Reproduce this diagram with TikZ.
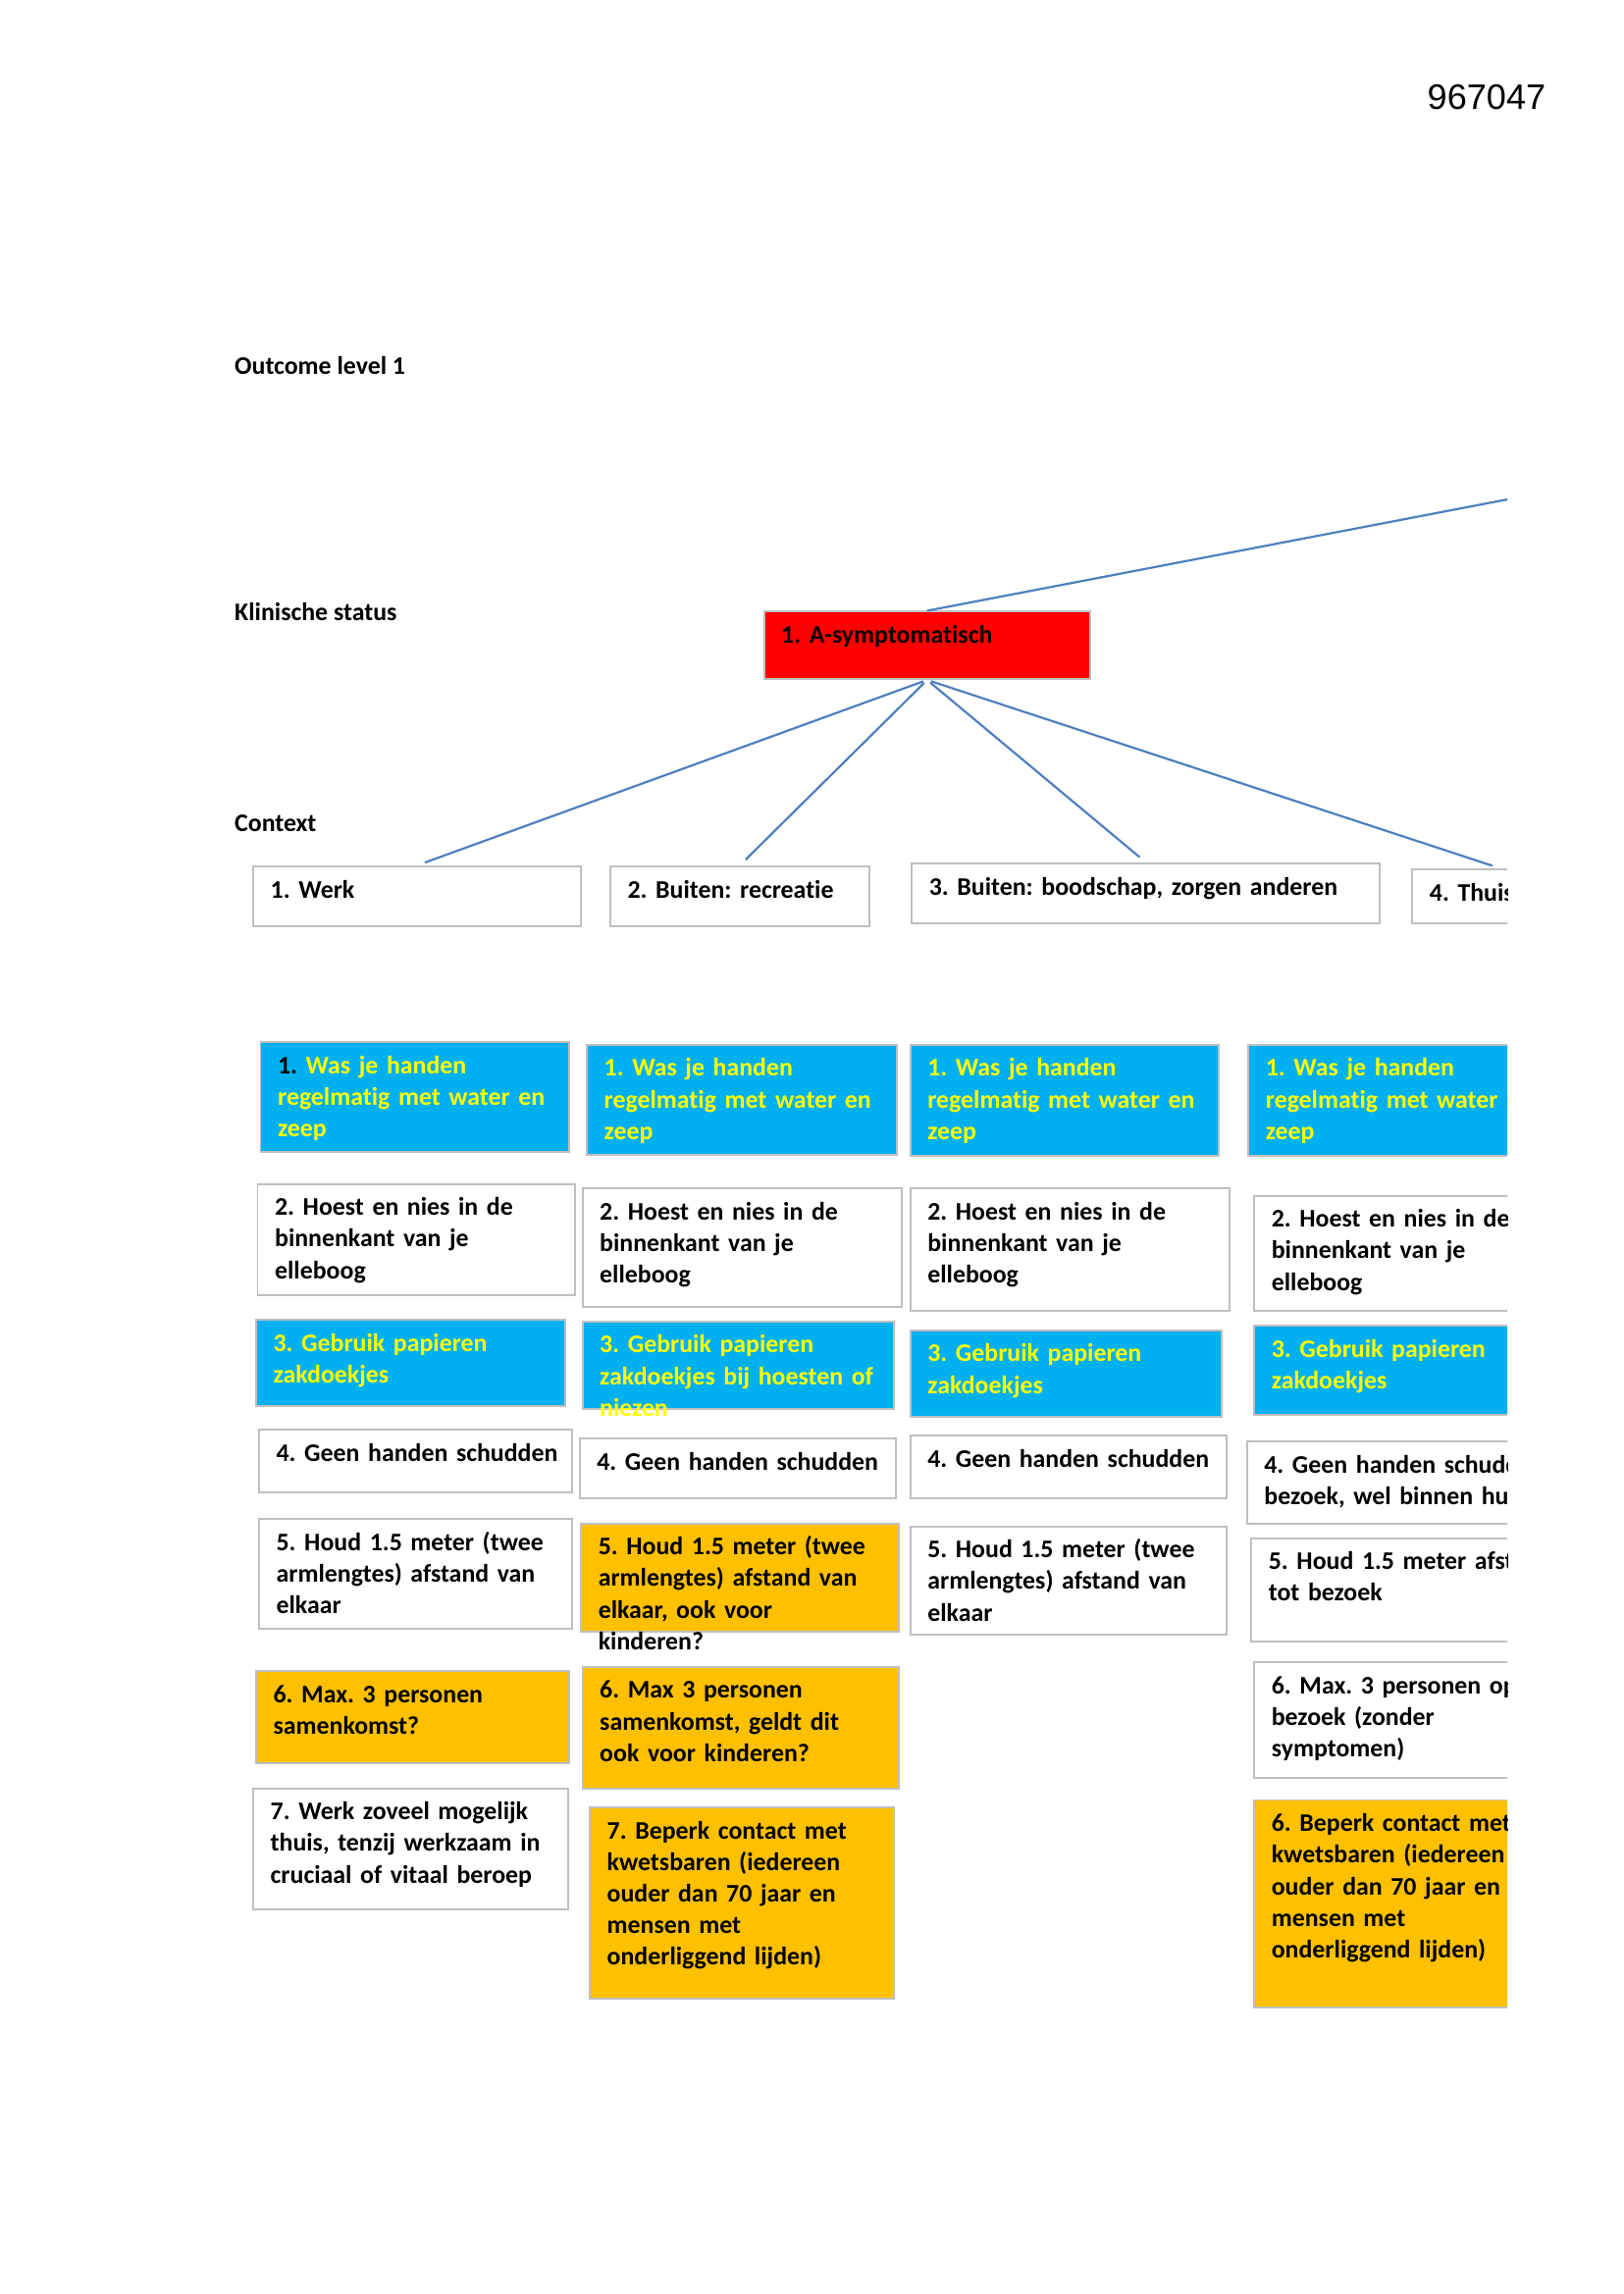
\documentclass[tikz,border=0pt]{standalone}
\usepackage{fontspec}
\setmainfont{Carlito}[Ligatures=NoCommon]
\newfontfamily\arialfont{Liberation Sans}
\usetikzlibrary{fit}
\frenchspacing

\definecolor{boxline}{HTML}{BFBFBF}
\definecolor{tipblue}{HTML}{00B0F0}
\definecolor{tipyellow}{HTML}{FFFF00}
\definecolor{tiporange}{HTML}{FFC000}
\definecolor{statusred}{HTML}{FF0000}
\definecolor{linkblue}{HTML}{4F81BD}

\tikzset{
  box/.style={draw=boxline, line width=0.7pt, inner sep=0pt},
  boxtext/.style={anchor=base west, inner sep=0pt, align=left, text width=200pt,
    font=\bfseries\fontsize{9.3}{11.6}\selectfont},
  level/.style={anchor=base west, inner sep=0pt, font=\bfseries\fontsize{9.3}{11.6}\selectfont},
  link/.style={draw=linkblue, line width=0.8pt},
}

\begin{document}
\begin{tikzpicture}[x=0.5369pt, y=-0.5369pt]
\useasboundingbox (0,0) rectangle (1109,1567.6);

% document number
\node[anchor=base west, inner sep=0pt, font=\arialfont\fontsize{13}{15}\selectfont]
  (docnr) at (975,75) {967047};

\begin{scope}
\clip (0,0) rectangle (1030,1567.6);

% === Level labels ===
\node[level] (lvl-outcome) at (160,256) {Outcome level 1};
\node[level] (lvl-status)  at (160,424) {Klinische status};
\node[level] (lvl-context) at (160,568) {Context};

% === Klinische status ===
\node[box, fill=statusred, fit={(522,418) (745,464)}] (status) {};
\node[boxtext] (status-txt) at ([xshift=6.5pt, yshift=-11.9pt]status.north west) {1. A-symptomatisch};
\coordinate (outcome) at (1240,301);
\draw[link] (status.north) -- (outcome);

% === Context ===
\foreach \n/\xa/\ya/\xb/\yb/\txt in {
  ctx-1/173/592/397/633/{1. Werk},
  ctx-2/417/592/594/633/{2. Buiten: recreatie},
  ctx-3/623/590/943/631/{3. Buiten: boodschap, zorgen anderen},
  ctx-4/965/594/1085/631/{4. Thuis}}{
  \node[box, fill=white, fit={(\xa,\ya) (\xb,\yb)}] (\n) {};
  \node[boxtext] (\n-txt) at ([xshift=6.5pt, yshift=-11.9pt]\n.north west) {\txt};
}

\foreach \i in {1,...,4}{
  \draw[link, shorten <=1.5pt, shorten >=3pt] (status.south) -- (ctx-\i.north);
}

% === Maatregelen per context ===
\foreach \n/\xa/\ya/\xb/\yb/\bg/\ink/\txt in {
  c1-1/178/712/389/787/tipblue/tipyellow/{{\color{black}1.} Was je handen\\regelmatig met water en\\zeep},
  c1-2/176/809/393/885/white/black/{2. Hoest en nies in de\\binnenkant van je\\elleboog},
  c1-3/175/902/386/961/tipblue/tipyellow/{3. Gebruik papieren\\zakdoekjes},
  c1-4/177/977/391/1020/white/black/{4. Geen handen schudden},
  c1-5/177/1038/391/1113/white/black/{5. Houd 1.5 meter (twee\\armlengtes) afstand van\\elkaar},
  c1-6/175/1142/389/1205/tiporange/black/{6. Max. 3 personen\\samenkomst?},
  c1-7/173/1222/388/1305/white/black/{7. Werk zoveel mogelijk\\thuis, tenzij werkzaam in\\cruciaal of vitaal beroep}}{
  \node[box, fill=\bg, fit={(\xa,\ya) (\xb,\yb)}] (\n) {};
  \node[boxtext, text=\ink] (\n-txt) at ([xshift=6.5pt, yshift=-11.9pt]\n.north west) {\txt};
}

\foreach \n/\xa/\ya/\xb/\yb/\bg/\ink/\txt in {
  c2-1/401/714/613/789/tipblue/tipyellow/{1. Was je handen\\regelmatig met water en\\zeep},
  c2-2/398/812/616/893/white/black/{2. Hoest en nies in de\\binnenkant van je\\elleboog},
  c2-3/398/903/611/963/tipblue/tipyellow/{3. Gebruik papieren\\zakdoekjes bij hoesten of\\niezen},
  c2-4/396/983/612/1024/white/black/{4. Geen handen schudden},
  c2-5/397/1041/614/1115/tiporange/black/{5. Houd 1.5 meter (twee\\armlengtes) afstand van\\elkaar, ook voor\\kinderen?},
  c2-6/398/1139/614/1222/tiporange/black/{6. Max 3 personen\\samenkomst, geldt dit\\ook voor kinderen?},
  c2-7/403/1235/611/1366/tiporange/black/{7. Beperk contact met\\kwetsbaren (iedereen\\ouder dan 70 jaar en\\mensen met\\onderliggend lijden)}}{
  \node[box, fill=\bg, fit={(\xa,\ya) (\xb,\yb)}] (\n) {};
  \node[boxtext, text=\ink] (\n-txt) at ([xshift=6.5pt, yshift=-11.9pt]\n.north west) {\txt};
}

\foreach \n/\xa/\ya/\xb/\yb/\bg/\ink/\txt in {
  c3-1/622/714/833/790/tipblue/tipyellow/{1. Was je handen\\regelmatig met water en\\zeep},
  c3-2/622/812/840/896/white/black/{2. Hoest en nies in de\\binnenkant van je\\elleboog},
  c3-3/622/909/835/968/tipblue/tipyellow/{3. Gebruik papieren\\zakdoekjes},
  c3-4/622/981/838/1024/white/black/{4. Geen handen schudden},
  c3-5/622/1043/838/1117/white/black/{5. Houd 1.5 meter (twee\\armlengtes) afstand van\\elkaar}}{
  \node[box, fill=\bg, fit={(\xa,\ya) (\xb,\yb)}] (\n) {};
  \node[boxtext, text=\ink] (\n-txt) at ([xshift=6.5pt, yshift=-11.9pt]\n.north west) {\txt};
}

\foreach \n/\xa/\ya/\xb/\yb/\bg/\ink/\txt in {
  c4-1/853/714/1080/790/tipblue/tipyellow/{1. Was je handen\\regelmatig met water e\\zeep},
  c4-2/857/817/1080/896/white/black/{2. Hoest en nies in de\\binnenkant van je\\elleboog},
  c4-3/857/906/1080/967/tipblue/tipyellow/{3. Gebruik papieren\\zakdoekjes},
  c4-4/852/985/1080/1041/white/black/{4. Geen handen schudd\\bezoek, wel binnen hu},
  c4-5/855/1051/1080/1122/white/black/{5. Houd 1.5 meter afst\\tot bezoek},
  c4-6/857/1136/1080/1215/white/black/{6. Max. 3 personen op\\bezoek (zonder\\symptomen)},
  c4-7/857/1230/1080/1372/tiporange/black/{6. Beperk contact met\\kwetsbaren (iedereen\\ouder dan 70 jaar en\\mensen met\\onderliggend lijden)}}{
  \node[box, fill=\bg, fit={(\xa,\ya) (\xb,\yb)}] (\n) {};
  \node[boxtext, text=\ink] (\n-txt) at ([xshift=6.5pt, yshift=-11.9pt]\n.north west) {\txt};
}
\end{scope}
\end{tikzpicture}
\end{document}
